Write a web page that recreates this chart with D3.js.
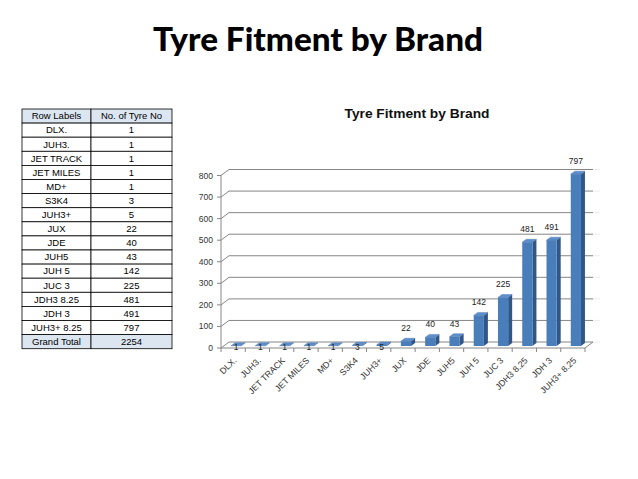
<!DOCTYPE html>
<html><head><meta charset="utf-8">
<script src="https://cdn.jsdelivr.net/npm/d3@7/dist/d3.min.js"></script>
<style>
html,body{margin:0;padding:0;background:#fff;}
svg{display:block;}
</style></head>
<body>
<svg id="c" width="638" height="479"></svg>
<script>
const categories = ["DLX.","JUH3.","JET TRACK","JET MILES","MD+","S3K4","JUH3+","JUX","JDE","JUH5","JUH 5","JUC 3","JDH3 8.25","JDH 3","JUH3+ 8.25"];
const values = [1,1,1,1,1,3,5,22,40,43,142,225,481,491,797];
const yTicks = [0,100,200,300,400,500,600,700,800];
const tableHeaders = ["Row Labels","No.  of Tyre No"];
const totalLabel = "Grand Total";
const mainTitle = "Tyre Fitment by Brand";
const chartTitle = "Tyre Fitment by Brand";

const svg = d3.select("#c");
const font = "'Liberation Sans', Arial, sans-serif";

// Main title
svg.append("text").attr("x", 318).attr("y", 51).attr("text-anchor","middle")
  .attr("font-family","Lato, 'DejaVu Sans', sans-serif").attr("font-weight",900)
  .attr("font-size",32).attr("textLength",330).attr("lengthAdjust","spacingAndGlyphs")
  .attr("fill","#000").text(mainTitle);

// Table
const tbl = svg.append("g");
const tx0 = 22, tx1 = 91, tx2 = 172, ty0 = 109, rh = 14.1;
const rows = [tableHeaders].concat(categories.map((c,i)=>[c, String(values[i])]))
  .concat([[totalLabel, String(d3.sum(values))]]);
rows.forEach((r,i)=>{
  const y = ty0 + i*rh;
  const shaded = (i===0 || i===rows.length-1);
  tbl.append("rect").attr("x",tx0).attr("y",y).attr("width",tx1-tx0).attr("height",rh)
    .attr("fill", shaded? "#dce6f1":"#fff").attr("stroke","#000").attr("stroke-width",0.8);
  tbl.append("rect").attr("x",tx1).attr("y",y).attr("width",tx2-tx1).attr("height",rh)
    .attr("fill", shaded? "#dce6f1":"#fff").attr("stroke","#000").attr("stroke-width",0.8);
  tbl.append("text").attr("x",(tx0+tx1)/2).attr("y",y+rh/2+3.3).attr("text-anchor","middle")
    .attr("font-family",font).attr("font-size",9.5).attr("fill","#000").text(r[0]);
  tbl.append("text").attr("x",(tx1+tx2)/2).attr("y",y+rh/2+3.3).attr("text-anchor","middle")
    .attr("font-family",font).attr("font-size",9.5).attr("fill","#000").text(r[1]);
});

// Chart
svg.append("text").attr("x",417).attr("y",118).attr("text-anchor","middle")
  .attr("font-family",font).attr("font-weight","bold").attr("font-size",12.5).attr("fill","#111")
  .attr("textLength",145).attr("lengthAdjust","spacingAndGlyphs")
  .text(chartTitle);

const xL = 221, xR = 585, dX = 8, dY = 6;
const x = d3.scaleBand().domain(categories).range([xL, xR]).paddingInner(0.58).paddingOuter(0.29);
const slot = d3.scaleBand().domain(categories).range([xL, xR]).padding(0);
const y = d3.scaleLinear().domain([0,800]).range([348, 175.5]);

const g = svg.append("g");
// gridlines (3D back wall)
g.selectAll(".grid").data(yTicks).enter().append("path")
  .attr("d", t => `M${xL},${y(t)}L${xL+dX},${y(t)-dY}L${xR+dX},${y(t)-dY}`)
  .attr("fill","none").attr("stroke","#868686").attr("stroke-width",1);
// faint side wall lines
g.selectAll(".side").data(yTicks).enter().append("path")
  .attr("d", t => `M${xR+dX},${y(t)-dY}L${xR+dX+7},${y(t)-dY}`)
  .attr("fill","none").attr("stroke","#eeeeee").attr("stroke-width",1);
// axis lines
g.append("path").attr("d",`M${xL},${y(0)}L${xR},${y(0)}L${xR+dX},${y(0)-dY}`)
  .attr("fill","none").attr("stroke","#868686");
g.append("path").attr("d",`M${xL},${y(0)}L${xL},${y(800)}`).attr("fill","none").attr("stroke","#868686");
// y ticks
g.selectAll(".yt").data(yTicks).enter().append("line")
  .attr("x1",xL-4).attr("x2",xL).attr("y1",d=>y(d)).attr("y2",d=>y(d)).attr("stroke","#868686");
g.selectAll(".yl").data(yTicks).enter().append("text")
  .attr("x",xL-8).attr("y",d=>y(d)+3).attr("text-anchor","end")
  .attr("font-family",font).attr("font-size",8.5).attr("fill","#333").text(d=>d);
// x ticks
const bounds = categories.map(c=>slot(c)).concat([xR]);
g.selectAll(".xt").data(bounds).enter().append("line")
  .attr("x1",d=>d).attr("x2",d=>d).attr("y1",y(0)).attr("y2",y(0)+4).attr("stroke","#868686");
g.selectAll(".xl").data(categories).enter().append("text")
  .attr("transform",d=>`translate(${slot(d)+slot.bandwidth()/2+4},${y(0)+13}) rotate(-45)`)
  .attr("text-anchor","end").attr("font-family",font).attr("font-size",8.8).attr("fill","#333")
  .text(d=>d);

// bars
const bx = 3, by = 2, tdx = 4, tdy = 3;
const bars = g.selectAll(".bar").data(categories.map((c,i)=>({c, v: values[i]}))).enter().append("g");
bars.each(function(d){
  const sel = d3.select(this);
  const x0 = x(d.c)+bx, w = x.bandwidth(), base = y(0)-by, top = y(d.v)-by;
  sel.append("path").attr("d",`M${x0+w},${base}L${x0+w+tdx},${base-tdy}L${x0+w+tdx},${top-tdy}L${x0+w},${top}Z`)
    .attr("fill","#2f5889");
  sel.append("rect").attr("x",x0).attr("y",top).attr("width",w).attr("height",Math.max(0,base-top))
    .attr("fill","#4a7ebb");
  sel.append("path").attr("d",`M${x0},${top}L${x0+tdx},${top-tdy}L${x0+w+tdx},${top-tdy}L${x0+w},${top}Z`)
    .attr("fill","#5f8fcb").attr("stroke","#3e6ca8").attr("stroke-width",0.4);
  const ly = (base-top) < 3 ? y(0)+2 : top-10;
  sel.append("text").attr("x",x0+w/2).attr("y",ly).attr("text-anchor","middle")
    .attr("font-family",font).attr("font-size",8.5).attr("fill","#222").text(d.v);
});
</script>
</body></html>
